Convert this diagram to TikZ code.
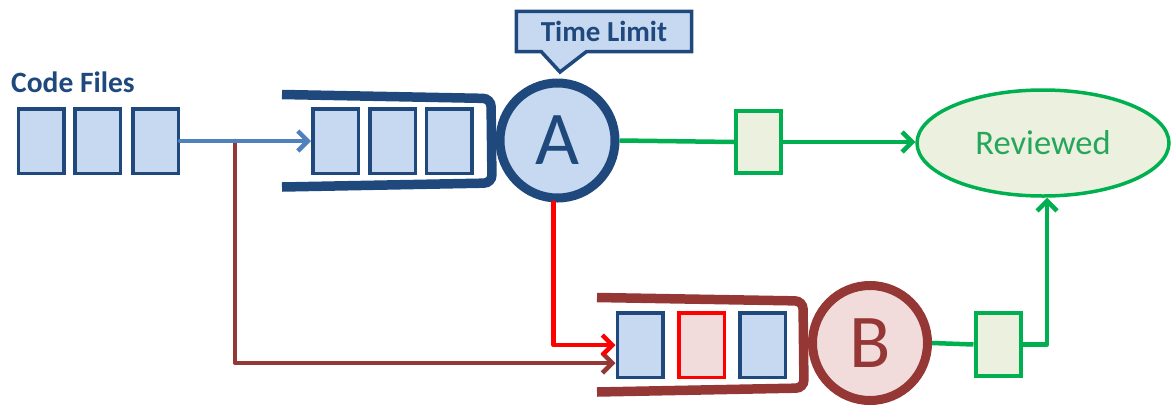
\documentclass[tikz,border=0pt]{standalone}
\usepackage{fontspec}
\setmainfont{Carlito}
\usetikzlibrary{arrows.meta,shapes.geometric,calc,backgrounds}
\definecolor{dblue}{HTML}{1F497D}
\definecolor{lblue}{HTML}{C6D9F1}
\definecolor{ablue}{HTML}{4F81BD}
\definecolor{dred}{HTML}{953735}
\definecolor{pinkf}{HTML}{F2DCDB}
\definecolor{rred}{HTML}{FF0000}
\definecolor{grn}{HTML}{00B050}
\definecolor{grnf}{HTML}{EBF1DE}
\definecolor{grntxt}{HTML}{26A65B}
\begin{document}
\begin{tikzpicture}[x=1pt,y=-1pt,
  filebox/.style={draw=dblue, fill=lblue, line width=3.5pt, minimum width=45.5pt, minimum height=64.5pt, inner sep=0pt},
  redbox/.style={filebox, draw=rred, fill=pinkf},
  grnbox/.style={draw=grn, fill=grnf, line width=4pt, minimum width=45pt, minimum height=62.5pt, inner sep=0pt},
  tube/.style={line width=9.5pt, rounded corners=8pt},
  server/.style={circle, line width=9pt, minimum size=115pt, inner sep=0pt, font=\fontsize{76}{76}\selectfont},
  arr/.style={-{Straight Barb[length=10pt,width=20pt]}, line cap=round, line join=round},
  conn/.style={line width=4.5pt}
]
\useasboundingbox (0,0) rectangle (1171,408);

% queue tubes
\draw[tube, dblue] (282,94.5) -- (491,98.5) -- (492,183) -- (282,187);
\draw[tube, dred] (597,297.5) -- (803,301) -- (804,388) -- (597,392);

% servers
\node[server, draw=dblue, fill=lblue, text=dblue] (A) at (557.5,140.5) {A};
\node[server, draw=dred, fill=pinkf, text=dred] (B) at (870,343) {B};

% code files
\node[anchor=base west, inner sep=0pt, text=dblue, font=\fontsize{29.5}{31}\selectfont\bfseries] (cf) at (11,92) {Code Files};
\node[filebox] (f1) at (41,141) {};
\node[filebox] (f2) at (97.5,141) {};
\node[filebox] (f3) at (155.5,141) {};

% queue A
\node[filebox] (qa1) at (335.5,141) {};
\node[filebox] (qa2) at (392.5,141) {};
\node[filebox] (qa3) at (449,141) {};

% queue B
\node[filebox] (qb1) at (640,345) {};
\node[redbox] (qb2) at (701.5,345) {};
\node[filebox] (qb3) at (762.5,345) {};

% green boxes
\node[grnbox] (g1) at (758.5,142) {};
\node[grnbox] (g2) at (998,344.5) {};

% reviewed
\node[ellipse, draw=grn, fill=grnf, line width=3.5pt, minimum width=252pt, minimum height=106pt, inner sep=0pt, text=grntxt, font=\fontsize{34.5}{35}\selectfont] (rev) at (1043,143) {Reviewed};

% time limit callout
\node[minimum width=175pt, minimum height=40pt, inner sep=0pt, text=dblue, font=\fontsize{29}{30}\selectfont\bfseries] (tl) at (604,31.5) {Time Limit};
\coordinate (tip) at (560,72);
\begin{scope}[on background layer]
\draw[draw=dblue, fill=lblue, line width=3.5pt, line join=miter]
  (tl.north west) -- (tl.north east) -- (tl.south east) -- ($(tl.south west)+(70,0)$) -- (tip) -- ($(tl.south west)+(25,0)$) -- (tl.south west) -- cycle;
\end{scope}

% connectors
\coordinate (split) at (235,141);
\draw[conn, dred, arr] (split) |- ([yshift=-18pt]qb1.west);
\draw[conn, ablue, arr] (f3.east) -- (qa1.west);
\draw[conn, rred, arr] ([xshift=-4pt]A.south) |- (qb1.west);
\draw[conn, grn] (A.east) -- (g1.west);
\draw[conn, grn, arr] (g1.east) -- (rev.west |- g1.east);
\draw[conn, grn] (B.east) -- (g2.west);
\draw[conn, grn, arr] (g2.east) -| ([xshift=4pt]rev.south);
\end{tikzpicture}
\end{document}
